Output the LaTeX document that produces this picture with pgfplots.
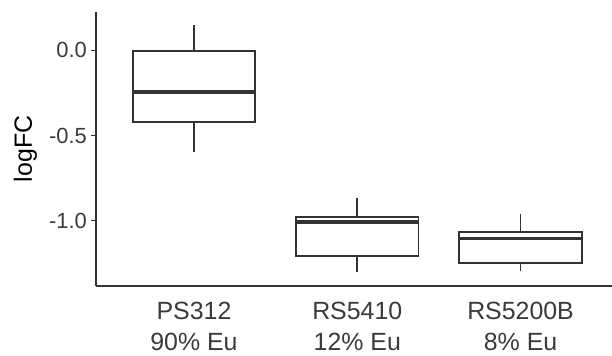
\documentclass[border=0pt]{standalone}
\usepackage{pgfplots}
\pgfplotsset{compat=1.18}
\usepgfplotslibrary{statistics}
\usepackage{fontspec}
\setmainfont{Liberation Sans}
\definecolor{boxc}{HTML}{333333}
\definecolor{tickc}{HTML}{3A3A3A}
\begin{document}
\begin{tikzpicture}
\begin{axis}[
  at={(96bp,70bp)}, anchor=south west,
  scale only axis, width=516bp, height=274bp,
  xmin=0.4, xmax=3.56, ymin=-1.385, ymax=0.226,
  axis x line*=bottom, axis y line*=left,
  axis line style={draw=boxc, line width=1.5bp, -},
  xtick={1,2,3},
  xticklabels={{PS312\\90\% Eu},{RS5410\\12\% Eu},{RS5200B\\8\% Eu}},
  xticklabel style={align=center, font=\fontsize{25}{31}\selectfont, text=tickc, inner sep=0pt, anchor=north, yshift=-11bp},
  major x tick style={draw=none},
  ytick={-1,-0.5,0},
  yticklabels={-1.0,-0.5,0.0},
  yticklabel style={font=\fontsize{22}{26}\selectfont, text=tickc, inner sep=0pt, anchor=east, xshift=-4bp},
  major y tick style={draw=boxc, line width=1.5bp},
  tick align=outside, major tick length=5bp,
  ylabel={logFC},
  ylabel style={at={(axis description cs:-0.137,0.5)}, anchor=center, font=\fontsize{25}{30}\selectfont, text=black, inner sep=0pt},
  clip=false,
  boxplot/draw direction=y,
  boxplot/box extend=0.75,
  boxplot/whisker extend=0,
  boxstyle/.style={solid, draw=boxc, line width=1.8bp, fill=white, mark=none},
  boxplot/every median/.style={line width=3.5bp, draw=boxc},
  boxplot/every whisker/.style={line width=1.8bp, draw=boxc},
  boxplot/every box/.style={line width=1.8bp, draw=boxc, fill=white},
]
\addplot[boxstyle, boxplot prepared={draw position=1, lower whisker=-0.600, lower quartile=-0.420, median=-0.244, upper quartile=-0.004, upper whisker=0.150}] coordinates {};
\addplot[boxstyle, boxplot prepared={draw position=2, lower whisker=-1.305, lower quartile=-1.210, median=-1.009, upper quartile=-0.978, upper whisker=-0.870}] coordinates {};
\addplot[boxstyle, boxplot prepared={draw position=3, lower whisker=-1.297, lower quartile=-1.250, median=-1.107, upper quartile=-1.068, upper whisker=-0.960}] coordinates {};
\end{axis}
\pgfresetboundingbox
\path[use as bounding box] (0,0) rectangle (612bp,356bp);
\end{tikzpicture}
\end{document}
